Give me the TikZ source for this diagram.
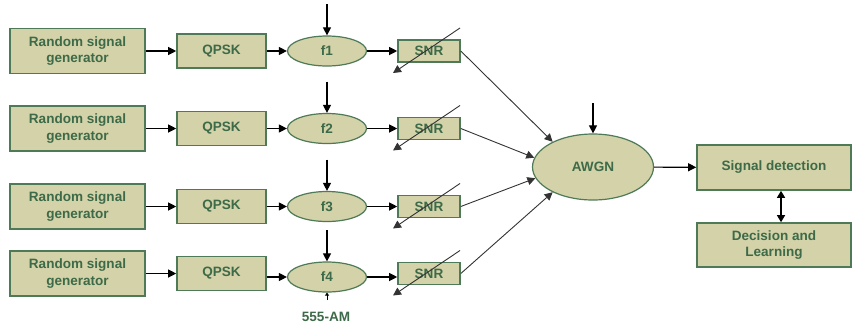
\documentclass[tikz,border=0pt]{standalone}
\usepackage{fontspec}
\setmainfont{Liberation Sans}
\usetikzlibrary{arrows.meta,shapes.geometric}
\definecolor{boxfill}{HTML}{D3D2A8}
\definecolor{boxedge}{HTML}{4E7A58}
\definecolor{txt}{HTML}{3D6A48}
\tikzset{
  base/.style={fill=boxfill,draw=boxedge,line width=1.6bp,text=txt,font=\fontsize{13.6}{17}\selectfont\bfseries,inner sep=0pt,align=center},
  bigbox/.style={base,rectangle,minimum width=135bp,minimum height=45bp},
  qbox/.style={base,rectangle,minimum width=89bp,minimum height=34bp},
  fell/.style={base,ellipse,line width=1.2bp,minimum width=79bp,minimum height=30bp},
  snrbox/.style={base,rectangle,minimum width=62bp,minimum height=22bp},
  rbox/.style={base,rectangle,minimum width=154bp,minimum height=45bp},
  conn/.style={draw=black,line width=1.1bp,-{Triangle[length=8bp,width=8bp]}},
  thin/.style={draw=black!80,line width=0.9bp,-{Triangle[length=8bp,width=8bp]}},
}
\begin{document}
\begin{tikzpicture}[x=1bp,y=-1bp]
\useasboundingbox (0,0) rectangle (853,329);
\foreach \i/\y/\fy in {1/51/51,2/128.5/128.5,3/206.5/206.5,4/273.5/277}{
  \node[bigbox] (rsg\i) at (77.5,\y) {Random signal\\generator};
  \node[qbox] (qpsk\i) at (221.5,\y) {QPSK};
  \node[fell] (f\i) at (327,\fy) {f\i};
  \node[snrbox] (snr\i) at (429,\y) {SNR};
  \coordinate (top\i) at (327,\fy-47);
  \coordinate (da\i) at (460,\y-23);
  \coordinate (db\i) at (393,\y+22);
  \draw[conn] (rsg\i) -- (qpsk\i);
  \draw[conn] (qpsk\i.east |- f\i) -- (f\i);
  \draw[conn] (f\i) -- (f\i -| snr\i.west);
  \draw[conn] (top\i) -- (f\i.north);
  \draw[thin] (da\i) -- (db\i);
}
\node[base,ellipse,line width=1.2bp,minimum width=121bp,minimum height=66bp] (awgn) at (593,167) {AWGN};
\node[rbox] (sd) at (774,167.5) {Signal detection};
\node[rbox,minimum height=44bp] (dl) at (774,245) {Decision and\\Learning};
\coordinate (atop) at (593,103);
\draw[conn] (atop) -- (awgn.north);
\draw[thin] (snr1.east) -- (awgn.148);
\draw[thin] (snr2.east) -- (awgn.171);
\draw[thin] (snr3.east) -- (awgn.191);
\draw[thin] (snr4.east) -- (awgn.212);
\draw[conn] (awgn) -- (sd);
\draw[draw=black,line width=1.3bp,{Triangle[length=7bp,width=8bp]}-{Triangle[length=7bp,width=8bp]}] (sd.south -| 781,0) -- (dl.north -| 781,0);
\node[text=txt,font=\fontsize{13.6}{16}\selectfont\bfseries] (am) at (326,317) {555-AM};
\coordinate (amt) at (327,300);
\draw[black,line width=1bp,-{Triangle[length=3bp,width=4bp]}] (amt) -- (f4.south);
\end{tikzpicture}
\end{document}
